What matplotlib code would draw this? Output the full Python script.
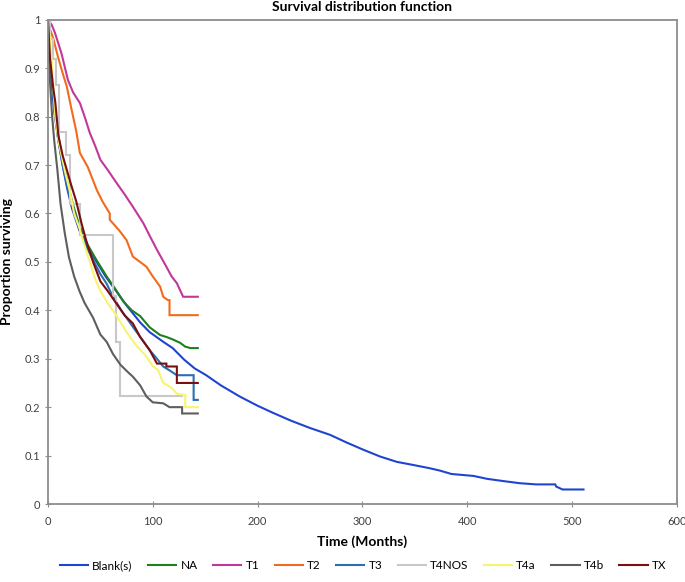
import matplotlib
matplotlib.use("Agg")
import matplotlib.pyplot as plt

plt.rcParams['font.family'] = ['Lato', 'DejaVu Sans']

labels = ["Blank(s)", "NA", "T1", "T2", "T3", "T4NOS", "T4a", "T4b", "TX"]
colors = ["#1f45d0", "#1f7f1f", "#c2379a", "#f26b1d", "#2a6fae", "#c8c8c8", "#f7f56e", "#5e5e5e", "#7a0f12"]

blank_t = [0, 1, 3, 6, 10, 14, 18, 23, 30, 38, 45, 55, 65, 75, 88, 97, 110, 119, 130, 140, 151, 165, 183, 200, 215, 232, 250, 269, 285, 301, 317, 333, 350, 364, 374, 385, 406, 419, 434, 450, 466, 484, 485, 491, 511]
blank_s = [1.0, 0.95, 0.88, 0.81, 0.75, 0.70, 0.655, 0.61, 0.565, 0.53, 0.505, 0.47, 0.44, 0.41, 0.375, 0.355, 0.335, 0.322, 0.298, 0.28, 0.266, 0.245, 0.222, 0.203, 0.188, 0.172, 0.157, 0.143, 0.127, 0.112, 0.098, 0.087, 0.08, 0.074, 0.069, 0.062, 0.058, 0.052, 0.0475, 0.043, 0.0405, 0.0405, 0.036, 0.030, 0.030]

na_t = [0, 2, 5, 10, 15, 20, 25, 30, 38, 46, 56, 64, 72, 80, 88, 97, 107, 113, 119, 126, 131, 136, 143]
na_s = [1.0, 0.93, 0.85, 0.76, 0.70, 0.65, 0.61, 0.575, 0.535, 0.505, 0.47, 0.445, 0.418, 0.40, 0.388, 0.365, 0.349, 0.345, 0.34, 0.333, 0.325, 0.322, 0.322]

t1_t = [0, 3.5, 6.7, 13, 19, 24, 30.5, 35, 40, 45, 50, 57, 65.5, 73, 81, 91, 98, 104, 113, 118, 123, 129, 143]
t1_s = [1.0, 0.99, 0.973, 0.93, 0.876, 0.85, 0.828, 0.80, 0.766, 0.74, 0.711, 0.69, 0.663, 0.64, 0.614, 0.58, 0.55, 0.525, 0.49, 0.47, 0.456, 0.428, 0.428]

t2_t = [0, 2, 5, 9.5, 14, 18, 22.6, 27, 30.5, 38, 46.5, 52, 59, 59, 68, 75, 81, 94, 100, 107, 110, 114.5, 116, 116, 143]
t2_s = [1.0, 0.98, 0.962, 0.924, 0.89, 0.862, 0.814, 0.77, 0.725, 0.696, 0.649, 0.625, 0.60, 0.587, 0.565, 0.545, 0.511, 0.49, 0.47, 0.449, 0.428, 0.421, 0.421, 0.39, 0.39]

t3_t = [0, 1, 3, 6, 10, 14, 19, 24, 30, 37, 44, 50, 56, 62, 70, 81, 88, 97, 104, 110, 116, 123, 139, 139, 143]
t3_s = [1.0, 0.95, 0.9, 0.82, 0.75, 0.70, 0.65, 0.61, 0.57, 0.53, 0.50, 0.475, 0.455, 0.428, 0.40, 0.366, 0.345, 0.318, 0.30, 0.284, 0.276, 0.266, 0.266, 0.215, 0.215]

t4nos_t = [0, 2, 5, 8, 11, 17, 21, 30.5, 62, 65, 69, 128]
t4nos_s = [1.0, 0.96, 0.92, 0.866, 0.769, 0.721, 0.62, 0.556, 0.43, 0.335, 0.223, 0.223]

t4a_t = [0, 2, 4, 7, 10, 13, 17, 21, 25, 30, 34, 40, 45, 50, 57, 66, 75, 85, 92, 100, 105, 110, 118, 123, 131, 131, 143]
t4a_s = [1.0, 0.96, 0.9, 0.8, 0.75, 0.72, 0.68, 0.645, 0.60, 0.57, 0.54, 0.50, 0.465, 0.44, 0.415, 0.387, 0.355, 0.325, 0.31, 0.285, 0.277, 0.25, 0.24, 0.228, 0.225, 0.20, 0.20]

t4b_t = [0, 1, 2, 4, 6, 9, 12, 16, 20, 25, 30, 35, 43, 50, 56, 62, 69, 75, 81, 88, 94, 100, 110, 116, 128, 128, 143]
t4b_s = [1.0, 0.93, 0.87, 0.80, 0.75, 0.69, 0.62, 0.56, 0.51, 0.47, 0.44, 0.415, 0.385, 0.35, 0.335, 0.31, 0.288, 0.275, 0.263, 0.245, 0.222, 0.21, 0.208, 0.20, 0.20, 0.187, 0.187]

tx_t = [0, 1, 2, 4, 5, 7, 10, 14, 18, 22, 27, 32, 37, 43, 50, 57, 65, 73, 81, 88, 97, 104, 113, 113, 123, 123, 143]
tx_s = [1.0, 0.96, 0.92, 0.88, 0.86, 0.83, 0.76, 0.72, 0.69, 0.66, 0.625, 0.58, 0.54, 0.50, 0.46, 0.44, 0.415, 0.39, 0.373, 0.345, 0.318, 0.29, 0.29, 0.284, 0.284, 0.25, 0.25]

series = [(blank_t, blank_s), (na_t, na_s), (t1_t, t1_s), (t2_t, t2_s), (t3_t, t3_s),
          (t4nos_t, t4nos_s), (t4a_t, t4a_s), (t4b_t, t4b_s), (tx_t, tx_s)]
stepped = [False, False, False, False, False, True, False, False, False]

x_ticks = [0, 100, 200, 300, 400, 500, 600]
y_ticks = [0, 0.1, 0.2, 0.3, 0.4, 0.5, 0.6, 0.7, 0.8, 0.9, 1]
y_tick_labels = ["0", "0.1", "0.2", "0.3", "0.4", "0.5", "0.6", "0.7", "0.8", "0.9", "1"]

fig = plt.figure(figsize=(6.85, 5.82), dpi=100)
ax = fig.add_axes([0.070, 0.134, 0.918, 0.832])

for (t, s), lab, col, st in zip(series, labels, colors, stepped):
    ax.plot(t, s, drawstyle='steps-post' if st else 'default', color=col, lw=1.5,
            label=lab, solid_joinstyle='miter')

ax.set_xlim(0, 600)
ax.set_ylim(0, 1)
ax.set_xticks(x_ticks)
ax.set_xticklabels([str(v) for v in x_ticks])
ax.set_yticks(y_ticks)
ax.set_yticklabels(y_tick_labels)
for sp in ax.spines.values():
    sp.set_color('#8c8c8c')
    sp.set_linewidth(1.3)
ax.tick_params(axis='both', direction='inout', length=5, width=0.8, color='#8c8c8c',
               labelsize=8, labelcolor='#404040', pad=3)
ax.tick_params(axis='x', pad=6)

ax.set_title("Survival distribution function", fontsize=10, fontweight='bold', pad=6)
ax.set_xlabel("Time (Months)", fontsize=10, fontweight='bold', labelpad=6)
ax.set_ylabel("Proportion surviving", fontsize=10, fontweight='bold', labelpad=8)

fig.legend(loc='lower center', bbox_to_anchor=(0.53, 0.0), ncol=9, frameon=False,
           fontsize=8.5, handlelength=2.4, handletextpad=0.35, columnspacing=1.3)

fig.savefig("out.png", dpi=100)
